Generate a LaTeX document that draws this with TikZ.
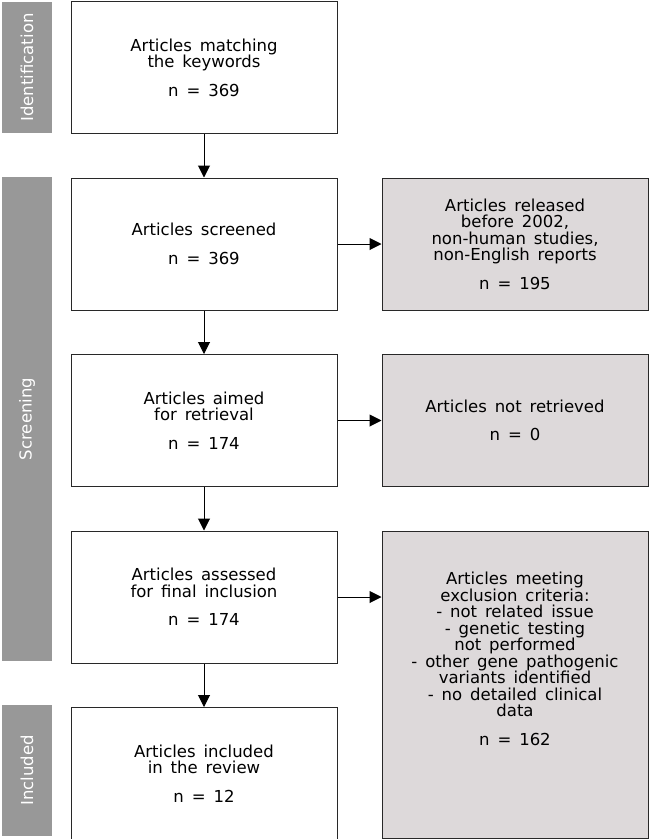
\documentclass[tikz,border=0pt]{standalone}
\usepackage{fontspec}
\setmainfont{DejaVu Sans}[WordSpace=1.5]
\usepackage{tikz}
\usetikzlibrary{arrows.meta, positioning}
\definecolor{bargrey}{RGB}{152,152,152}
\definecolor{boxgrey}{RGB}{221,217,218}
\definecolor{edgegrey}{RGB}{40,40,40}

\begin{document}
\begin{tikzpicture}[
  x=1pt, y=1pt,
  node distance=43.5pt and 44pt,
  every node/.style={font=\fontsize{16.5}{16.5}\selectfont},
  stage/.style   ={draw=edgegrey, line width=1pt, fill=white,
                   minimum width=266pt, minimum height=132pt,
                   inner sep=0pt, align=center},
  excluded/.style={stage, fill=boxgrey},
  phase/.style   ={fill=bargrey, text=white, rotate=90, inner sep=0pt,
                   minimum height=50pt},
  arr/.style={-{Triangle[length=12pt,width=12pt]}, line width=1pt},
]
\useasboundingbox (0,0) rectangle (649,-839);

% phase bars on the left
\node[phase, minimum width=131pt] (ident)  at (27,-67.5) {Identification};
\node[phase, minimum width=484pt] (screen) at (27,-419)  {Screening};
\node[phase, minimum width=131pt] (incl)   at (27,-770.5) {Included};

% main column
\node[stage] (found) at (204,-67.5)
      {Articles matching\\the keywords\\[12pt]n = 369};
\node[stage, below=of found]    (screened)
      {Articles screened\\[12pt]n = 369};
\node[stage, below=of screened] (sought)
      {Articles aimed\\for retrieval\\[12pt]n = 174};
\node[stage, below=of sought]   (assessed)
      {Articles assessed\\for final inclusion\\[12pt]n = 174};
\node[stage, below=of assessed] (included)
      {Articles included\\in the review\\[12pt]n = 12};

% exclusions on the right
\node[excluded, right=of screened] (ex1)
      {Articles released\\before 2002,\\non-human studies,\\non-English reports\\[12pt]n = 195};
\node[excluded, right=of sought]   (ex2)
      {Articles not retrieved\\[12pt]n = 0};
\node[excluded, minimum height=307.5pt, anchor=north,
      label={[anchor=north, yshift=-38pt, align=center]north:Articles meeting\\exclusion criteria:\\- not related issue\\- genetic testing\\not performed\\- other gene pathogenic\\variants identified\\- no detailed clinical\\data\\[12pt]n = 162}]
      (ex3) at (ex2.south |- assessed.north) {};

\draw[arr] (found)    -- (screened);
\draw[arr] (screened) -- (sought);
\draw[arr] (sought)   -- (assessed);
\draw[arr] (assessed) -- (included);
\draw[arr] (screened) -- (ex1);
\draw[arr] (sought)   -- (ex2);
\draw[arr] (assessed) -- (assessed -| ex3.west);

\end{tikzpicture}
\end{document}
